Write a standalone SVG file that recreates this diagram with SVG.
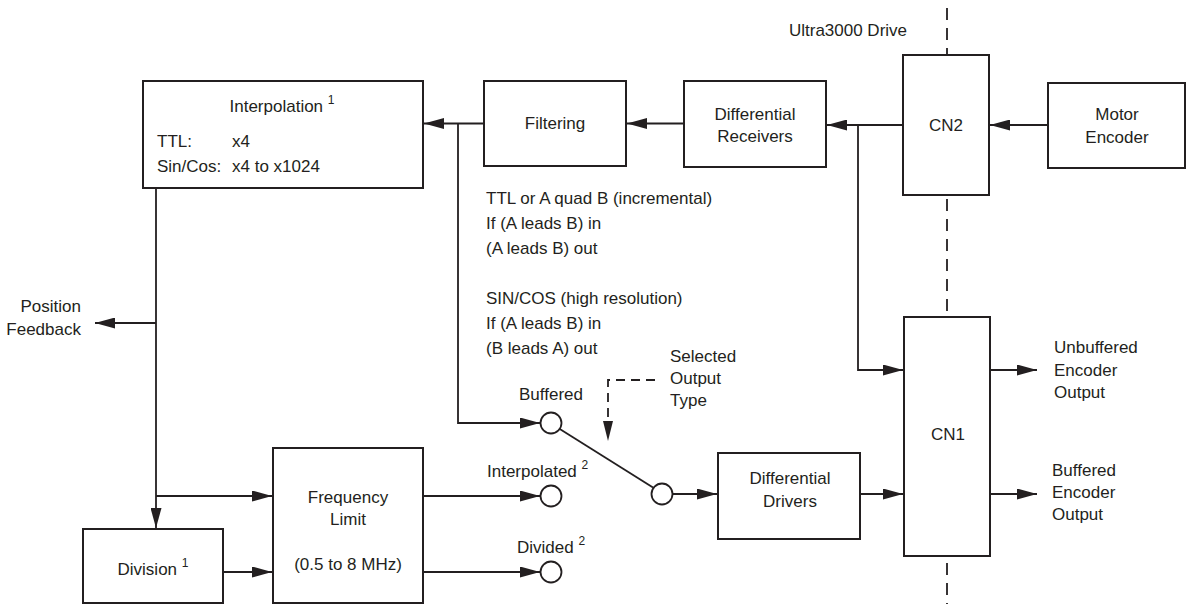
<svg xmlns="http://www.w3.org/2000/svg" width="1186" height="604" viewBox="0 0 1186 604">
<defs>
<style>
text{font-family:"Liberation Sans",Arial,sans-serif;font-size:17px;fill:#231f20}
.c{text-anchor:middle}
.e{text-anchor:end}
.sup{font-size:12px}
.box{fill:#fff;stroke:#231f20;stroke-width:2}
.ln{fill:none;stroke:#231f20;stroke-width:1.8}
.arr{marker-end:url(#ah)}
.dash{fill:none;stroke:#231f20;stroke-width:1.8;stroke-dasharray:12 8}
.sdash{fill:none;stroke:#231f20;stroke-width:1.8;stroke-dasharray:9 6}
.node{fill:#fff;stroke:#231f20;stroke-width:1.8}
</style>
<marker id="ah" markerUnits="userSpaceOnUse" markerWidth="20" markerHeight="11" refX="20" refY="5.5" orient="auto">
<path d="M0,0 L20,5.5 L0,11 z" fill="#231f20"/>
</marker>
</defs>
<rect width="1186" height="604" fill="#fff"/>

<g id="boundary">
<line class="dash" x1="947" y1="8" x2="947" y2="55"/>
<line class="dash" x1="947" y1="199" x2="947" y2="317"/>
<line class="dash" x1="947" y1="563" x2="947" y2="604"/>
<text x="848" y="36" class="c">Ultra3000 Drive</text>
</g>

<g id="connectors">
<line class="ln arr" x1="1048" y1="125" x2="990" y2="125"/>
<line class="ln arr" x1="903" y1="125" x2="827" y2="125"/>
<line class="ln arr" x1="684" y1="123.5" x2="627" y2="123.5"/>
<line class="ln arr" x1="484" y1="123.5" x2="424" y2="123.5"/>
<polyline class="ln arr" points="858,125 858,370 903,370"/>
<polyline class="ln arr" points="458,123.5 458,423 540,423"/>
<line class="ln arr" x1="156" y1="188" x2="156" y2="528"/>
<line class="ln arr" x1="156" y1="323" x2="95" y2="323"/>
<line class="ln arr" x1="156" y1="496" x2="272" y2="496"/>
<line class="ln arr" x1="223" y1="572" x2="272" y2="572"/>
<line class="ln arr" x1="424" y1="496" x2="540" y2="496"/>
<line class="ln arr" x1="424" y1="572" x2="540" y2="572"/>
<line class="ln" x1="559" y1="428.5" x2="653" y2="487.5" stroke-width="1.5"/>
<line class="ln arr" x1="672" y1="494" x2="717" y2="494"/>
<line class="ln arr" x1="860" y1="494" x2="903" y2="494"/>
<line class="ln arr" x1="991" y1="370" x2="1037" y2="370"/>
<line class="ln arr" x1="991" y1="494" x2="1037" y2="494"/>
<polyline class="sdash" points="655,380 608,380 608,422"/>
<polygon points="603,421 613,421 608,441" fill="#231f20"/>
</g>

<g id="switch">
<circle class="node" cx="551" cy="423" r="10.5"/>
<circle class="node" cx="551" cy="496" r="10.5"/>
<circle class="node" cx="551" cy="572" r="10.5"/>
<circle class="node" cx="662" cy="494" r="10.5"/>
<text x="519" y="400">Buffered</text>
<text x="487" y="477">Interpolated <tspan class="sup" dy="-8">2</tspan></text>
<text x="517" y="553">Divided <tspan class="sup" dy="-8">2</tspan></text>
<text x="670" y="362">Selected</text>
<text x="670" y="384">Output</text>
<text x="670" y="406">Type</text>
</g>

<g id="interpolation">
<rect class="box" x="143" y="81" width="280" height="107"/>
<text x="282" y="112" class="c">Interpolation <tspan class="sup" dy="-8">1</tspan></text>
<text x="157" y="147">TTL:</text>
<text x="232" y="147">x4</text>
<text x="157" y="172">Sin/Cos:  <tspan x="232">x4 to x1024</tspan></text>
</g>

<g id="filtering">
<rect class="box" x="484" y="81" width="142" height="85"/>
<text x="555" y="129" class="c">Filtering</text>
</g>

<g id="diff-receivers">
<rect class="box" x="684" y="81" width="142" height="86"/>
<text x="755" y="120" class="c">Differential</text>
<text x="755" y="142" class="c">Receivers</text>
</g>

<g id="cn2">
<rect class="box" x="903" y="55" width="86" height="140"/>
<text x="946" y="131" class="c">CN2</text>
</g>

<g id="motor-encoder">
<rect class="box" x="1048" y="83" width="137" height="85"/>
<text x="1117" y="120" class="c">Motor</text>
<text x="1117" y="143" class="c">Encoder</text>
</g>

<g id="notes">
<text x="486" y="204">TTL or A quad B (incremental)</text>
<text x="486" y="229">If (A leads B) in</text>
<text x="486" y="254">(A leads B) out</text>
<text x="486" y="304">SIN/COS (high resolution)</text>
<text x="486" y="329">If (A leads B) in</text>
<text x="486" y="354">(B leads A) out</text>
</g>

<g id="position-feedback">
<text x="81" y="312" class="e">Position</text>
<text x="81" y="335" class="e">Feedback</text>
</g>

<g id="frequency-limit">
<rect class="box" x="273" y="448" width="150" height="155"/>
<text x="348" y="503" class="c">Frequency</text>
<text x="348" y="525" class="c">Limit</text>
<text x="348" y="570" class="c">(0.5 to 8 MHz)</text>
</g>

<g id="division">
<rect class="box" x="83" y="529" width="140" height="74"/>
<text x="153" y="575" class="c">Division <tspan class="sup" dy="-8">1</tspan></text>
</g>

<g id="diff-drivers">
<rect class="box" x="718" y="453" width="142" height="86"/>
<text x="790" y="484" class="c">Differential</text>
<text x="790" y="507" class="c">Drivers</text>
</g>

<g id="cn1">
<rect class="box" x="904" y="317" width="86" height="239"/>
<text x="948" y="440" class="c">CN1</text>
</g>

<g id="outputs">
<text x="1054" y="353">Unbuffered</text>
<text x="1054" y="376">Encoder</text>
<text x="1054" y="398">Output</text>
<text x="1052" y="476">Buffered</text>
<text x="1052" y="498">Encoder</text>
<text x="1052" y="520">Output</text>
</g>
</svg>
